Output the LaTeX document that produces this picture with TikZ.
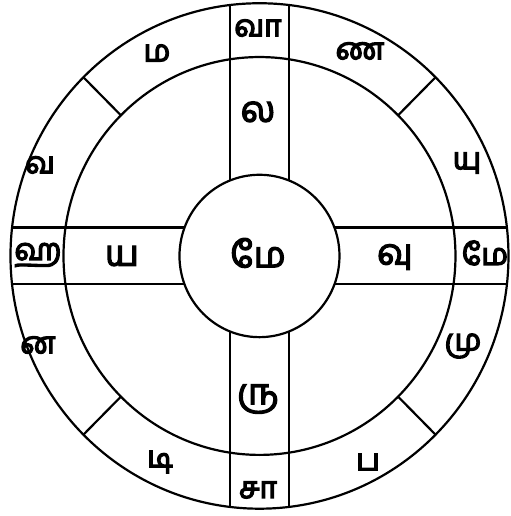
\documentclass[tikz,border=0pt]{standalone}
\usepackage{fontspec}
\newfontfamily\tamil[Script=Tamil, FakeBold=3.5]{Hind Madurai}
\newfontfamily\tamilouter[Script=Tamil, FakeBold=4.5]{Hind Madurai}
\tikzset{
  letter/.style={font=\tamilouter\fontsize{30}{33}\selectfont, inner sep=0pt},
  inner letter/.style={font=\tamil\fontsize{36}{40}\selectfont, inner sep=0pt},
  ring/.style={line width=2.2pt}
}
\begin{document}
\begin{tikzpicture}[x=1pt, y=1.015pt]
  \useasboundingbox (-259.5,-256.2) rectangle (251.5,252.2);
  \draw[ring] (0,0) circle (249);
  \draw[ring] (0,0) circle (196);
  \draw[ring] (0,0) circle (80);
  \foreach \s in {1,-1} {
    \draw[ring] ({\s*74.94},28) -- ({\s*247.42},28);
    \draw[ring] ({\s*74.94},-28) -- ({\s*247.42},-28);
    \draw[ring] (29.5,{\s*74.36}) -- (29.5,{\s*247.25});
    \draw[ring] (-29.5,{\s*74.36}) -- (-29.5,{\s*247.25});
  }
  \foreach \a in {45,135,225,315}
    \draw[ring] (\a:196) -- (\a:249);
  \node[inner letter] (centre) at (-1.5,3) {மே};
  \node[inner letter] (la) at (-1.5,142) {ல};
  \node[inner letter] (vu) at (135.5,-1) {வு};
  \node[inner letter] (ru) at (-1.5,-141) {ரு};
  \node[inner letter] (ya) at (-137.5,0) {ய};
  \node[letter] (vaa) at (-1.5,224.6) {வா};
  \node[letter] (nna) at (100.5,202) {ண};
  \node[letter] (yu) at (207.5,91.6) {யு};
  \node[letter] (mee) at (225.5,3) {மே};
  \node[letter] (mu) at (203.5,-88.7) {மு};
  \node[letter] (pa) at (108.5,-203) {ப};
  \node[letter] (saa) at (-1.5,-230.5) {சா};
  \node[letter] (di) at (-99.5,-203) {டி};
  \node[letter] (na) at (-221.5,-87.7) {ன};
  \node[letter] (ha) at (-221.5,1) {ஹ};
  \node[letter] (va) at (-219.5,89.7) {வ};
  \node[letter] (ma) at (-102.5,200) {ம};
\end{tikzpicture}
\end{document}
